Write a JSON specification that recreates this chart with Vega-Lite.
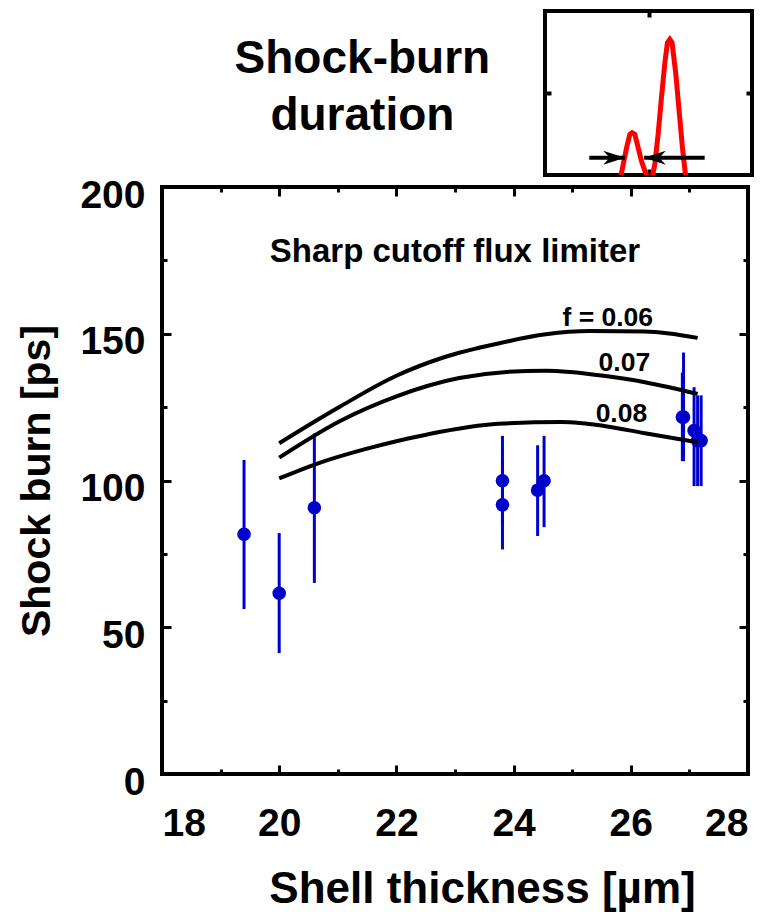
{
  "$schema": "https://vega.github.io/schema/vega-lite/v6.json",
  "padding": {"left": 14, "top": 7, "right": 10, "bottom": 5},
  "background": "white",
  "spacing": -5,
  "config": {
    "font": "Liberation Sans",
    "view": {"stroke": "black", "strokeWidth": 4},
    "axis": {"grid": false, "domain": false, "tickColor": "black", "labelColor": "black", "titleColor": "black", "labelFont": "Liberation Sans", "titleFont": "Liberation Sans", "labelFontWeight": "bold", "titleFontWeight": "bold"}
  },
  "datasets": {
    "points": [
      {"thickness": 19.40, "burn": 81.7, "lo": 56.2, "hi": 107.0},
      {"thickness": 20.00, "burn": 61.6, "lo": 41.2, "hi": 82.1},
      {"thickness": 20.60, "burn": 90.7, "lo": 65.1, "hi": 116.0},
      {"thickness": 23.81, "burn": 99.9, "lo": 84.5, "hi": 115.2},
      {"thickness": 23.81, "burn": 91.7, "lo": 76.5, "hi": 107.0},
      {"thickness": 24.41, "burn": 96.7, "lo": 81.1, "hi": 112.0},
      {"thickness": 24.52, "burn": 99.9, "lo": 84.1, "hi": 115.2},
      {"thickness": 26.90, "burn": 121.6, "lo": 106.6, "hi": 143.6},
      {"thickness": 26.88, "burn": 121.6, "lo": 106.6, "hi": 136.8},
      {"thickness": 27.08, "burn": 117.0, "lo": 98.1, "hi": 131.8},
      {"thickness": 27.14, "burn": 113.6, "lo": 98.1, "hi": 129.0},
      {"thickness": 27.20, "burn": 113.6, "lo": 98.1, "hi": 129.0}
    ],
    "curves": [
      {"f": "0.06", "thickness": 20.0, "burn": 112.7},
      {"f": "0.06", "thickness": 21.04, "burn": 125.2},
      {"f": "0.06", "thickness": 21.99, "burn": 135.6},
      {"f": "0.06", "thickness": 22.8, "burn": 141.9},
      {"f": "0.06", "thickness": 23.74, "burn": 146.7},
      {"f": "0.06", "thickness": 24.55, "burn": 149.8},
      {"f": "0.06", "thickness": 25.3, "burn": 150.9},
      {"f": "0.06", "thickness": 26.24, "burn": 150.8},
      {"f": "0.06", "thickness": 27.14, "burn": 148.6},
      {"f": "0.07", "thickness": 20.0, "burn": 107.8},
      {"f": "0.07", "thickness": 21.04, "burn": 120.3},
      {"f": "0.07", "thickness": 21.99, "burn": 128.6},
      {"f": "0.07", "thickness": 23.07, "burn": 134.9},
      {"f": "0.07", "thickness": 23.88, "burn": 137.0},
      {"f": "0.07", "thickness": 24.55, "burn": 137.4},
      {"f": "0.07", "thickness": 24.96, "burn": 137.0},
      {"f": "0.07", "thickness": 25.57, "burn": 135.6},
      {"f": "0.07", "thickness": 26.24, "burn": 133.5},
      {"f": "0.07", "thickness": 27.14, "burn": 129.5},
      {"f": "0.08", "thickness": 20.0, "burn": 100.7},
      {"f": "0.08", "thickness": 20.64, "burn": 105.7},
      {"f": "0.08", "thickness": 21.45, "burn": 110.6},
      {"f": "0.08", "thickness": 22.53, "burn": 115.7},
      {"f": "0.08", "thickness": 23.74, "burn": 119.3},
      {"f": "0.08", "thickness": 24.82, "burn": 119.9},
      {"f": "0.08", "thickness": 25.57, "burn": 118.5},
      {"f": "0.08", "thickness": 26.24, "burn": 116.1},
      {"f": "0.08", "thickness": 27.14, "burn": 113.0}
    ],
    "curveLabels": [
      {"label": "f = 0.06", "thickness": 26.38, "burn": 152.8},
      {"label": "0.07", "thickness": 26.33, "burn": 137.3},
      {"label": "0.08", "thickness": 26.28, "burn": 119.9}
    ],
    "heading": [
      {"label": "Sharp cutoff flux limiter", "thickness": 23.0, "burn": 174.5}
    ],
    "pulse": [
      {"t": 0.730, "s": -0.03},
      {"t": 0.756, "s": 0.13},
      {"t": 0.788, "s": 0.333},
      {"t": 0.820, "s": 0.496},
      {"t": 0.842, "s": 0.516},
      {"t": 0.868, "s": 0.496},
      {"t": 0.900, "s": 0.333},
      {"t": 0.932, "s": 0.171},
      {"t": 0.965, "s": 0.049},
      {"t": 0.997, "s": -0.05},
      {"t": 1.035, "s": -0.03},
      {"t": 1.061, "s": 0.13},
      {"t": 1.093, "s": 0.496},
      {"t": 1.125, "s": 0.943},
      {"t": 1.158, "s": 1.37},
      {"t": 1.183, "s": 1.614},
      {"t": 1.206, "s": 1.654},
      {"t": 1.228, "s": 1.614},
      {"t": 1.264, "s": 1.228},
      {"t": 1.296, "s": 0.78},
      {"t": 1.328, "s": 0.333},
      {"t": 1.360, "s": -0.03}
    ],
    "arrows": [
      {"dir": "right", "from": 0.428, "tip": 0.772, "level": 0.211},
      {"dir": "left", "from": 1.543, "tip": 0.958, "level": 0.211}
    ],
    "titleLines": [
      {"text": "Shock-burn", "px": 0.543, "py": 0.62},
      {"text": "duration", "px": 0.543, "py": 0.272}
    ]
  },
  "vconcat": [
    {
      "spacing": 10,
      "hconcat": [
        {
          "width": 369,
          "height": 164,
          "view": {"stroke": null},
          "data": {"name": "titleLines"},
          "mark": {"type": "text", "fontSize": 46, "fontWeight": "bold", "align": "center", "baseline": "alphabetic", "color": "black"},
          "encoding": {
            "x": {"field": "px", "type": "quantitative", "scale": {"domain": [0, 1]}, "axis": null},
            "y": {"field": "py", "type": "quantitative", "scale": {"domain": [0, 1]}, "axis": null},
            "text": {"field": "text"}
          }
        },
        {
          "width": 207,
          "height": 164,
          "layer": [
            {
              "data": {"name": "pulse"},
              "mark": {"type": "line", "color": "#ff0000", "strokeWidth": 5, "clip": true},
              "encoding": {
                "x": {"field": "t", "type": "quantitative", "scale": {"domain": [0, 2], "nice": false},
                  "axis": {"orient": "bottom", "values": [1], "labels": false, "title": null, "tickSize": -6, "tickWidth": 4}},
                "y": {"field": "s", "type": "quantitative", "scale": {"domain": [0, 2], "nice": false},
                  "axis": {"orient": "left", "values": [1], "labels": false, "title": null, "tickSize": -6, "tickWidth": 4}}
              }
            },
            {
              "data": {"name": "arrows"},
              "mark": {"type": "rule", "color": "black", "strokeWidth": 4},
              "encoding": {
                "x": {"field": "from", "type": "quantitative",
                  "axis": {"orient": "top", "values": [1], "labels": false, "title": null, "tickSize": -6, "tickWidth": 4}},
                "x2": {"field": "tip"},
                "y": {"field": "level", "type": "quantitative",
                  "axis": {"orient": "right", "values": [1], "labels": false, "title": null, "tickSize": -6, "tickWidth": 4}}
              }
            },
            {
              "data": {"name": "arrows"},
              "mark": {"type": "point", "filled": true, "color": "black", "opacity": 1, "size": 470, "strokeWidth": 0},
              "encoding": {
                "x": {"field": "tip", "type": "quantitative", "axis": null},
                "y": {"field": "level", "type": "quantitative", "axis": null},
                "shape": {"field": "dir", "type": "nominal", "legend": null,
                  "scale": {"domain": ["right", "left"], "range": ["M0,0L-2,-0.65L-1.4,0L-2,0.65Z", "M0,0L2,-0.65L1.4,0L2,0.65Z"]}}
              }
            }
          ],
          "resolve": {"axis": {"x": "independent", "y": "independent"}}
        }
      ]
    },
    {
      "width": 586,
      "height": 587,
      "layer": [
        {
          "data": {"name": "points"},
          "mark": {"type": "rule", "color": "#0000cc", "strokeWidth": 3},
          "encoding": {
            "x": {"field": "thickness", "type": "quantitative", "scale": {"domain": [18, 28], "nice": false, "zero": false},
              "axis": {"orient": "bottom", "title": "Shell thickness [µm]", "values": [18, 19, 20, 21, 22, 23, 24, 25, 26, 27, 28],
                "labelExpr": "datum.value % 2 == 0 ? datum.label : ''",
                "tickSize": {"condition": {"test": "datum.value % 2 == 0", "value": -9}, "value": -5},
                "tickWidth": 3, "labelFontSize": 39, "labelPadding": 39, "titleFontSize": 44, "titlePadding": 24, "titleX": 320}},
            "y": {"field": "lo", "type": "quantitative", "scale": {"domain": [0, 200], "nice": false},
              "axis": {"orient": "left", "title": "Shock burn [ps]", "values": [0, 25, 50, 75, 100, 125, 150, 175, 200],
                "labelExpr": "datum.value % 50 == 0 ? datum.label : ''",
                "tickSize": {"condition": {"test": "datum.value % 50 == 0", "value": -9}, "value": -5},
                "tickWidth": 3, "labelFontSize": 39, "labelPadding": 26, "labelOffset": 8, "titleFontSize": 41, "titlePadding": 21}},
            "y2": {"field": "hi"}
          }
        },
        {
          "data": {"name": "points"},
          "mark": {"type": "circle", "color": "#0000cc", "opacity": 1, "size": 185},
          "encoding": {
            "x": {"field": "thickness", "type": "quantitative",
              "axis": {"orient": "top", "title": null, "labels": false, "values": [18, 19, 20, 21, 22, 23, 24, 25, 26, 27, 28],
                "tickSize": {"condition": {"test": "datum.value % 2 == 0", "value": -9}, "value": -5}, "tickWidth": 3}},
            "y": {"field": "burn", "type": "quantitative",
              "axis": {"orient": "right", "title": null, "labels": false, "values": [0, 25, 50, 75, 100, 125, 150, 175, 200],
                "tickSize": {"condition": {"test": "datum.value % 50 == 0", "value": -9}, "value": -5}, "tickWidth": 3}}
          }
        },
        {
          "data": {"name": "curves"},
          "mark": {"type": "line", "color": "black", "strokeWidth": 4, "interpolate": "monotone"},
          "encoding": {
            "x": {"field": "thickness", "type": "quantitative", "axis": null},
            "y": {"field": "burn", "type": "quantitative", "axis": null},
            "detail": {"field": "f", "type": "nominal"}
          }
        },
        {
          "data": {"name": "curveLabels"},
          "mark": {"type": "text", "fontSize": 26.5, "fontWeight": "bold", "align": "right", "baseline": "alphabetic", "color": "black"},
          "encoding": {
            "x": {"field": "thickness", "type": "quantitative", "axis": null},
            "y": {"field": "burn", "type": "quantitative", "axis": null},
            "text": {"field": "label"}
          }
        },
        {
          "data": {"name": "heading"},
          "mark": {"type": "text", "fontSize": 33, "fontWeight": "bold", "align": "center", "baseline": "alphabetic", "color": "black"},
          "encoding": {
            "x": {"field": "thickness", "type": "quantitative", "axis": null},
            "y": {"field": "burn", "type": "quantitative", "axis": null},
            "text": {"field": "label"}
          }
        }
      ],
      "resolve": {"axis": {"x": "independent", "y": "independent"}}
    }
  ]
}
